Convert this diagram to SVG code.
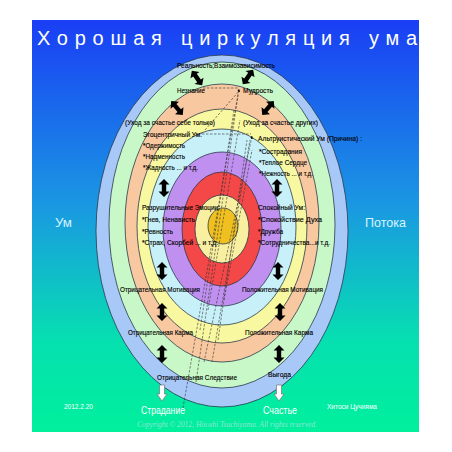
<svg xmlns="http://www.w3.org/2000/svg" width="452" height="452" viewBox="0 0 452 452">
<defs>
<linearGradient id="bg" x1="0" y1="0" x2="0" y2="1">
<stop offset="0" stop-color="#1a3ef5"/>
<stop offset="0.45" stop-color="#1a98e2"/>
<stop offset="0.78" stop-color="#06e0b0"/>
<stop offset="1" stop-color="#00f09c"/>
</linearGradient>
<path id="dbl" d="M0,-9 L5.5,-3.5 L2.2,-3.5 L2.2,3.5 L5.5,3.5 L0,9 L-5.5,3.5 L-2.2,3.5 L-2.2,-3.5 L-5.5,-3.5 Z"/>
<path id="down" d="M-2.5,-8 L2.5,-8 L2.5,1 L5,1 L0,8 L-5,1 L-2.5,1 Z"/>
<marker id="ah" viewBox="0 0 10 10" refX="9" refY="5" markerWidth="5" markerHeight="5" orient="auto">
<path d="M0,0 L10,5 L0,10 Z" fill="#000"/>
</marker>
</defs>
<style>
.ring{stroke:#2a3a4a;stroke-width:0.8}
.t{font-family:"Liberation Sans",Arial,sans-serif;font-size:8px;fill:#000;stroke:#000;stroke-width:0.15}
.w{font-family:"Liberation Sans",Arial,sans-serif;fill:#fff}
.dash{stroke:#333;stroke-width:0.6;stroke-dasharray:2.5,1.5;fill:none}
.arr{fill:#000}
.warr{fill:#fff;stroke:#777;stroke-width:0.7}
</style>
<rect x="32" y="20" width="387" height="412" fill="url(#bg)"/>
<text class="w" x="37" y="45" font-size="20" textLength="380" lengthAdjust="spacing">Хорошая циркуляция ума</text>

<g id="rings">
<ellipse class="ring" cx="222" cy="231" rx="126" ry="176" fill="#a8c8f8"/>
<ellipse class="ring" cx="222" cy="225" rx="113" ry="163" fill="#c8f8c8"/>
<ellipse class="ring" cx="222" cy="223" rx="97" ry="139" fill="#f8c8a0"/>
<ellipse class="ring" cx="222" cy="226" rx="85" ry="117" fill="#f8f8a0"/>
<ellipse class="ring" cx="222" cy="227" rx="74" ry="98" fill="#c8f0f8"/>
<ellipse class="ring" cx="222" cy="229" rx="59" ry="77" fill="#c090f0"/>
<ellipse class="ring" cx="222" cy="229" rx="40" ry="57" fill="#f44848"/>
<ellipse class="ring" cx="222" cy="229" rx="27" ry="34" fill="#f8f0a0"/>
<ellipse class="ring" cx="223" cy="226" rx="15" ry="18" fill="#f0c020"/>
</g>

<g id="connectors">
<line class="dash" x1="203" y1="88" x2="238" y2="88"/>
<line class="dash" x1="202" y1="134" x2="251" y2="134"/>
<line class="dash" x1="183" y1="408" x2="239" y2="89" marker-end="url(#ah)"/>
<line class="dash" x1="205" y1="130" x2="240" y2="90"/>
<line class="dash" x1="196" y1="382" x2="238" y2="95"/>
<line class="dash" x1="204" y1="362" x2="252" y2="136" marker-end="url(#ah)"/>
<line class="dash" x1="212" y1="362" x2="250" y2="140"/>
<line class="dash" x1="218" y1="340" x2="247" y2="140"/>
<line class="dash" x1="200" y1="330" x2="234" y2="110"/>
<line class="dash" x1="208" y1="310" x2="240" y2="120"/>
<line class="dash" x1="224" y1="300" x2="252" y2="150"/>
</g>

<g id="arrows">
<use href="#dbl" class="arr" transform="translate(197,78) rotate(-35)"/>
<use href="#dbl" class="arr" transform="translate(248,77) rotate(35)"/>
<use href="#dbl" class="arr" transform="translate(177,108) rotate(-40)"/>
<use href="#dbl" class="arr" transform="translate(268,108) rotate(40)"/>
<use href="#dbl" class="arr" transform="translate(164,188)"/>
<use href="#dbl" class="arr" transform="translate(277,188)"/>
<use href="#dbl" class="arr" transform="translate(162,271)"/>
<use href="#dbl" class="arr" transform="translate(278,271)"/>
<use href="#dbl" class="arr" transform="translate(162,312)"/>
<use href="#dbl" class="arr" transform="translate(280,312)"/>
<use href="#dbl" class="arr" transform="translate(162,354)"/>
<use href="#dbl" class="arr" transform="translate(279,354)"/>
<use href="#down" class="warr" transform="translate(162,393)"/>
<use href="#down" class="warr" transform="translate(279,393)"/>
</g>

<g id="n-reality"><text class="t" x="177" y="68" textLength="98" lengthAdjust="spacingAndGlyphs">Реальность;Взаимозависимость</text></g>
<g id="n-ignorance"><text class="t" x="177" y="93" textLength="28" lengthAdjust="spacingAndGlyphs">Незнание</text></g>
<g id="n-wisdom"><text class="t" x="243" y="93" textLength="30" lengthAdjust="spacingAndGlyphs">Мудрость</text></g>
<g id="n-self"><text class="t" x="125" y="125" textLength="90" lengthAdjust="spacingAndGlyphs">(Уход за счастье себе только)</text></g>
<g id="n-others"><text class="t" x="243" y="125" textLength="75" lengthAdjust="spacingAndGlyphs">(Уход за счастье других)</text></g>
<g id="n-ego">
<text class="t" x="143" y="137" textLength="59" lengthAdjust="spacingAndGlyphs">Эгоцентричный Ум:</text>
<text class="t" x="143" y="148" textLength="42" lengthAdjust="spacingAndGlyphs">*Одержимость</text>
<text class="t" x="143" y="159" textLength="42" lengthAdjust="spacingAndGlyphs">*Надменность</text>
<text class="t" x="143" y="170" textLength="55" lengthAdjust="spacingAndGlyphs">*Жадность ... и т.д.</text>
</g>
<g id="n-altruist">
<text class="t" x="258" y="141" textLength="104" lengthAdjust="spacingAndGlyphs">Альтруистический Ум (Причина) :</text>
<text class="t" x="259" y="154" textLength="43" lengthAdjust="spacingAndGlyphs">*Сострадания</text>
<text class="t" x="259" y="165" textLength="48" lengthAdjust="spacingAndGlyphs">*Теплое Сердце</text>
<text class="t" x="259" y="176" textLength="54" lengthAdjust="spacingAndGlyphs">*Нежность ... и т.д.</text>
</g>
<g id="n-destructive">
<text class="t" x="142" y="210" textLength="78" lengthAdjust="spacingAndGlyphs">Разрушительные Эмоции:</text>
<text class="t" x="142" y="222" textLength="53" lengthAdjust="spacingAndGlyphs">*Гнев, Ненависть</text>
<text class="t" x="142" y="234" textLength="31" lengthAdjust="spacingAndGlyphs">*Ревность</text>
<text class="t" x="142" y="245" textLength="76" lengthAdjust="spacingAndGlyphs">*Страх, Скорбей ... и т.д.</text>
</g>
<g id="n-calm">
<text class="t" x="258" y="210" textLength="47" lengthAdjust="spacingAndGlyphs">Спокойный Ум:</text>
<text class="t" x="258" y="222" textLength="64" lengthAdjust="spacingAndGlyphs">*Спокойствие Духа</text>
<text class="t" x="258" y="234" textLength="25" lengthAdjust="spacingAndGlyphs">*Дружба</text>
<text class="t" x="258" y="245" textLength="72" lengthAdjust="spacingAndGlyphs">*Сотрудничества...и т.д.</text>
</g>
<g id="n-negmot"><text class="t" x="120" y="292" textLength="80" lengthAdjust="spacingAndGlyphs">Отрицательная Мотивация</text></g>
<g id="n-posmot"><text class="t" x="242" y="292" textLength="81" lengthAdjust="spacingAndGlyphs">Положительная Мотивация</text></g>
<g id="n-negkarma"><text class="t" x="128" y="335" textLength="65" lengthAdjust="spacingAndGlyphs">Отрицательная Карма</text></g>
<g id="n-poskarma"><text class="t" x="245" y="335" textLength="68" lengthAdjust="spacingAndGlyphs">Положительная Карма</text></g>
<g id="n-negcons"><text class="t" x="157" y="380" textLength="80" lengthAdjust="spacingAndGlyphs">Отрицательная Следствие</text></g>
<g id="n-benefit"><text class="t" x="268" y="377" textLength="23" lengthAdjust="spacingAndGlyphs">Выгода</text></g>

<g id="n-um"><text class="w" x="55" y="227" font-size="13" style="fill:#d8f4ff" textLength="17" lengthAdjust="spacingAndGlyphs">Ум</text></g>
<g id="n-flow"><text class="w" x="365" y="227" font-size="13" style="fill:#d8f4ff" textLength="41" lengthAdjust="spacingAndGlyphs">Потока</text></g>
<g id="n-suffer"><text class="w" x="141" y="414" font-size="10.5" textLength="44" lengthAdjust="spacingAndGlyphs">Страдание</text></g>
<g id="n-happy"><text class="w" x="263" y="414" font-size="10.5" textLength="34" lengthAdjust="spacingAndGlyphs">Счастье</text></g>
<text class="w" x="64" y="409" font-size="7" textLength="29" lengthAdjust="spacingAndGlyphs">2012.2.20</text>
<text class="w" x="327" y="409" font-size="7" textLength="50" lengthAdjust="spacingAndGlyphs">Хитоси Цучияма</text>
<text x="137" y="427" font-family="Liberation Serif,serif" font-style="italic" font-size="9" fill="#8ee8d4" textLength="180" lengthAdjust="spacingAndGlyphs">Copyright © 2012, Hitoshi Tsuchiyama. All rights reserved.</text>
</svg>
